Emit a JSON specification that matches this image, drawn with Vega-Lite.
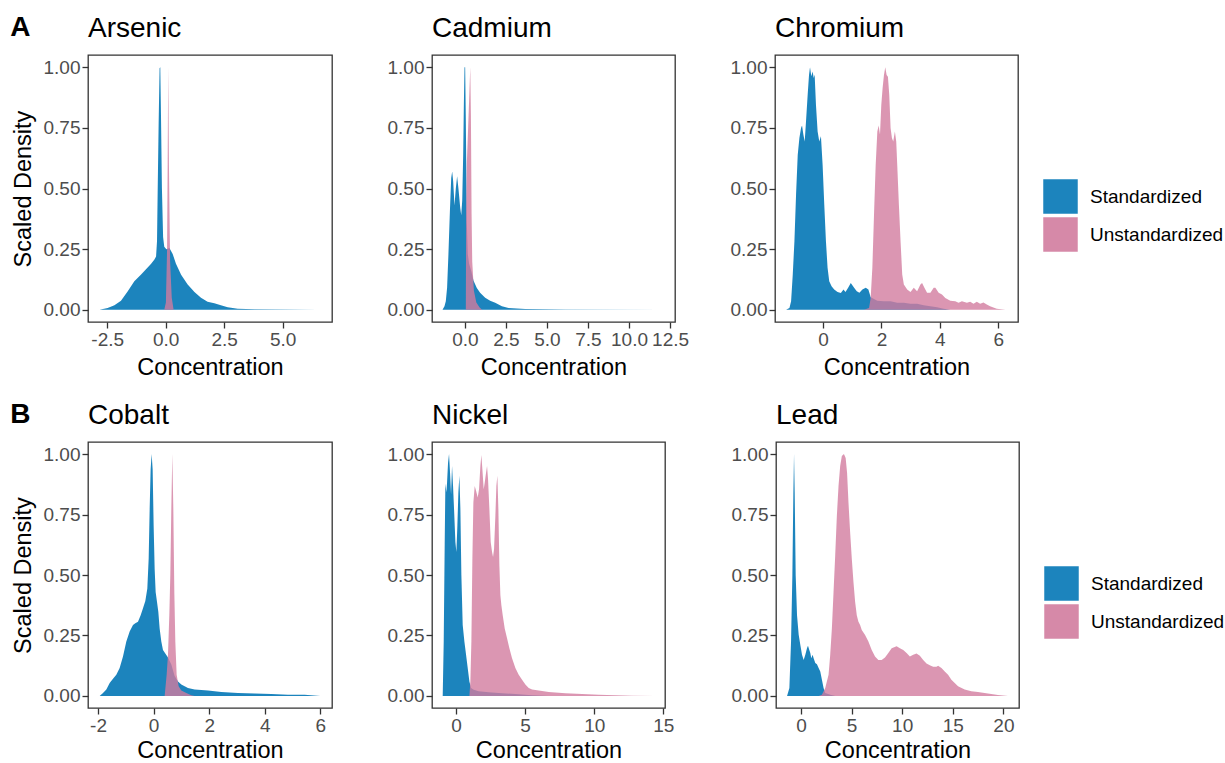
{
"$schema": "https://vega.github.io/schema/vega-lite/v6.json",
"background": "white",
"padding": {"left": 10, "top": 14, "right": 2, "bottom": 0},
"config": {
  "font": "Liberation Sans",
  "view": {"stroke": "#333333", "strokeWidth": 1.3},
  "axis": {"domain": false, "grid": false, "tickColor": "#333333", "tickWidth": 1.3, "tickSize": 6,
           "labelFontSize": 19, "labelColor": "#4D4D4D", "labelFont": "Liberation Sans",
           "titleFont": "Liberation Sans", "titleFontSize": 23.5, "titleFontWeight": "normal", "titleColor": "#000000",
           "labelPadding": 2, "labelFlush": false, "labelOverlap": false},
  "axisX": {"titlePadding": 6},
  "axisY": {"titlePadding": 8},
  "title": {"font": "Liberation Sans", "fontSize": 28, "fontWeight": "normal", "anchor": "start", "frame": "group", "color": "#000000", "offset": 12, "baseline": "alphabetic"}
},
"datasets": {
"arsenic": [
{"conc":-2.83,"dens":0,"series":"Standardized"},{"conc":-2.48,"dens":0.008,"series":"Standardized"},{"conc":-2.19,"dens":0.019,"series":"Standardized"},{"conc":-1.91,"dens":0.038,"series":"Standardized"},{"conc":-1.62,"dens":0.077,"series":"Standardized"},{"conc":-1.34,"dens":0.118,"series":"Standardized"},{"conc":-1.05,"dens":0.146,"series":"Standardized"},{"conc":-0.84,"dens":0.167,"series":"Standardized"},{"conc":-0.63,"dens":0.189,"series":"Standardized"},{"conc":-0.48,"dens":0.207,"series":"Standardized"},{"conc":-0.41,"dens":0.22,"series":"Standardized"},{"conc":-0.37,"dens":0.283,"series":"Standardized"},{"conc":-0.34,"dens":0.5,"series":"Standardized"},{"conc":-0.3,"dens":0.77,"series":"Standardized"},{"conc":-0.26,"dens":0.995,"series":"Standardized"},{"conc":-0.23,"dens":1,"series":"Standardized"},{"conc":-0.2,"dens":0.8,"series":"Standardized"},{"conc":-0.16,"dens":0.5,"series":"Standardized"},{"conc":-0.11,"dens":0.3,"series":"Standardized"},{"conc":-0.06,"dens":0.26,"series":"Standardized"},{"conc":0.03,"dens":0.25,"series":"Standardized"},{"conc":0.16,"dens":0.255,"series":"Standardized"},{"conc":0.3,"dens":0.23,"series":"Standardized"},{"conc":0.44,"dens":0.19,"series":"Standardized"},{"conc":0.66,"dens":0.145,"series":"Standardized"},{"conc":0.94,"dens":0.104,"series":"Standardized"},{"conc":1.23,"dens":0.074,"series":"Standardized"},{"conc":1.51,"dens":0.05,"series":"Standardized"},{"conc":1.79,"dens":0.033,"series":"Standardized"},{"conc":2.08,"dens":0.027,"series":"Standardized"},{"conc":2.36,"dens":0.019,"series":"Standardized"},{"conc":2.65,"dens":0.011,"series":"Standardized"},{"conc":3.08,"dens":0.005,"series":"Standardized"},{"conc":3.79,"dens":0.003,"series":"Standardized"},{"conc":5.21,"dens":0.001,"series":"Standardized"},{"conc":6.5,"dens":0,"series":"Standardized"},
{"conc":-0.06,"dens":0,"series":"Unstandardized"},{"conc":0.01,"dens":0.03,"series":"Unstandardized"},{"conc":0.06,"dens":0.25,"series":"Unstandardized"},{"conc":0.085,"dens":0.6,"series":"Unstandardized"},{"conc":0.11,"dens":1,"series":"Unstandardized"},{"conc":0.14,"dens":0.6,"series":"Unstandardized"},{"conc":0.19,"dens":0.2,"series":"Unstandardized"},{"conc":0.26,"dens":0.05,"series":"Unstandardized"},{"conc":0.34,"dens":0,"series":"Unstandardized"}
],
"cadmium": [
{"conc":-1.36,"dens":0,"series":"Standardized"},{"conc":-1.24,"dens":0.015,"series":"Standardized"},{"conc":-1.16,"dens":0.036,"series":"Standardized"},{"conc":-1.08,"dens":0.091,"series":"Standardized"},{"conc":-1.0,"dens":0.228,"series":"Standardized"},{"conc":-0.91,"dens":0.406,"series":"Standardized"},{"conc":-0.83,"dens":0.543,"series":"Standardized"},{"conc":-0.77,"dens":0.57,"series":"Standardized"},{"conc":-0.71,"dens":0.529,"series":"Standardized"},{"conc":-0.63,"dens":0.43,"series":"Standardized"},{"conc":-0.55,"dens":0.5,"series":"Standardized"},{"conc":-0.47,"dens":0.55,"series":"Standardized"},{"conc":-0.39,"dens":0.5,"series":"Standardized"},{"conc":-0.28,"dens":0.42,"series":"Standardized"},{"conc":-0.22,"dens":0.39,"series":"Standardized"},{"conc":-0.16,"dens":0.45,"series":"Standardized"},{"conc":-0.1,"dens":0.64,"series":"Standardized"},{"conc":-0.06,"dens":0.845,"series":"Standardized"},{"conc":-0.02,"dens":1,"series":"Standardized"},{"conc":0.02,"dens":1,"series":"Standardized"},{"conc":0.06,"dens":0.78,"series":"Standardized"},{"conc":0.12,"dens":0.36,"series":"Standardized"},{"conc":0.18,"dens":0.23,"series":"Standardized"},{"conc":0.26,"dens":0.19,"series":"Standardized"},{"conc":0.39,"dens":0.16,"series":"Standardized"},{"conc":0.53,"dens":0.12,"series":"Standardized"},{"conc":0.73,"dens":0.09,"series":"Standardized"},{"conc":0.93,"dens":0.07,"series":"Standardized"},{"conc":1.24,"dens":0.05,"series":"Standardized"},{"conc":1.54,"dens":0.038,"series":"Standardized"},{"conc":1.85,"dens":0.029,"series":"Standardized"},{"conc":2.26,"dens":0.015,"series":"Standardized"},{"conc":2.66,"dens":0.008,"series":"Standardized"},{"conc":3.68,"dens":0.004,"series":"Standardized"},{"conc":6.12,"dens":0.001,"series":"Standardized"},{"conc":12.0,"dens":0,"series":"Standardized"},
{"conc":0.06,"dens":0,"series":"Unstandardized"},{"conc":0.08,"dens":0.4,"series":"Unstandardized"},{"conc":0.12,"dens":0.6,"series":"Unstandardized"},{"conc":0.2,"dens":0.75,"series":"Unstandardized"},{"conc":0.28,"dens":0.9,"series":"Unstandardized"},{"conc":0.33,"dens":1,"series":"Unstandardized"},{"conc":0.37,"dens":0.8,"series":"Unstandardized"},{"conc":0.41,"dens":0.4,"series":"Unstandardized"},{"conc":0.45,"dens":0.2,"series":"Unstandardized"},{"conc":0.55,"dens":0.08,"series":"Unstandardized"},{"conc":0.7,"dens":0.03,"series":"Unstandardized"},{"conc":0.9,"dens":0.01,"series":"Unstandardized"},{"conc":1.05,"dens":0,"series":"Unstandardized"}
],
"chromium": [
{"conc":-1.27,"dens":0,"series":"Standardized"},{"conc":-1.155,"dens":0.008,"series":"Standardized"},{"conc":-1.098,"dens":0.036,"series":"Standardized"},{"conc":-1.041,"dens":0.146,"series":"Standardized"},{"conc":-0.984,"dens":0.283,"series":"Standardized"},{"conc":-0.928,"dens":0.475,"series":"Standardized"},{"conc":-0.871,"dens":0.638,"series":"Standardized"},{"conc":-0.814,"dens":0.708,"series":"Standardized"},{"conc":-0.757,"dens":0.749,"series":"Standardized"},{"conc":-0.723,"dens":0.76,"series":"Standardized"},{"conc":-0.678,"dens":0.722,"series":"Standardized"},{"conc":-0.632,"dens":0.694,"series":"Standardized"},{"conc":-0.587,"dens":0.776,"series":"Standardized"},{"conc":-0.53,"dens":0.886,"series":"Standardized"},{"conc":-0.484,"dens":0.968,"series":"Standardized"},{"conc":-0.45,"dens":1,"series":"Standardized"},{"conc":-0.405,"dens":0.962,"series":"Standardized"},{"conc":-0.359,"dens":0.982,"series":"Standardized"},{"conc":-0.325,"dens":0.955,"series":"Standardized"},{"conc":-0.291,"dens":0.969,"series":"Standardized"},{"conc":-0.246,"dens":0.845,"series":"Standardized"},{"conc":-0.189,"dens":0.735,"series":"Standardized"},{"conc":-0.132,"dens":0.694,"series":"Standardized"},{"conc":-0.075,"dens":0.715,"series":"Standardized"},{"conc":-0.018,"dens":0.598,"series":"Standardized"},{"conc":0.039,"dens":0.433,"series":"Standardized"},{"conc":0.096,"dens":0.283,"series":"Standardized"},{"conc":0.152,"dens":0.173,"series":"Standardized"},{"conc":0.209,"dens":0.118,"series":"Standardized"},{"conc":0.289,"dens":0.097,"series":"Standardized"},{"conc":0.38,"dens":0.084,"series":"Standardized"},{"conc":0.493,"dens":0.074,"series":"Standardized"},{"conc":0.607,"dens":0.069,"series":"Standardized"},{"conc":0.698,"dens":0.084,"series":"Standardized"},{"conc":0.766,"dens":0.074,"series":"Standardized"},{"conc":0.857,"dens":0.091,"series":"Standardized"},{"conc":0.948,"dens":0.111,"series":"Standardized"},{"conc":1.062,"dens":0.091,"series":"Standardized"},{"conc":1.153,"dens":0.077,"series":"Standardized"},{"conc":1.244,"dens":0.07,"series":"Standardized"},{"conc":1.346,"dens":0.084,"series":"Standardized"},{"conc":1.46,"dens":0.091,"series":"Standardized"},{"conc":1.551,"dens":0.084,"series":"Standardized"},{"conc":1.63,"dens":0.052,"series":"Standardized"},{"conc":1.857,"dens":0.038,"series":"Standardized"},{"conc":2.085,"dens":0.036,"series":"Standardized"},{"conc":2.312,"dens":0.036,"series":"Standardized"},{"conc":2.54,"dens":0.029,"series":"Standardized"},{"conc":2.767,"dens":0.029,"series":"Standardized"},{"conc":2.994,"dens":0.025,"series":"Standardized"},{"conc":3.222,"dens":0.025,"series":"Standardized"},{"conc":3.449,"dens":0.019,"series":"Standardized"},{"conc":3.677,"dens":0.015,"series":"Standardized"},{"conc":3.904,"dens":0.011,"series":"Standardized"},{"conc":4.131,"dens":0.005,"series":"Standardized"},{"conc":4.359,"dens":0,"series":"Standardized"},
{"conc":1.403,"dens":0,"series":"Unstandardized"},{"conc":1.574,"dens":0.008,"series":"Unstandardized"},{"conc":1.63,"dens":0.049,"series":"Unstandardized"},{"conc":1.687,"dens":0.173,"series":"Unstandardized"},{"conc":1.744,"dens":0.392,"series":"Unstandardized"},{"conc":1.801,"dens":0.596,"series":"Unstandardized"},{"conc":1.858,"dens":0.735,"series":"Unstandardized"},{"conc":1.903,"dens":0.76,"series":"Unstandardized"},{"conc":1.949,"dens":0.722,"series":"Unstandardized"},{"conc":1.994,"dens":0.845,"series":"Unstandardized"},{"conc":2.039,"dens":0.914,"series":"Unstandardized"},{"conc":2.085,"dens":0.968,"series":"Unstandardized"},{"conc":2.13,"dens":1,"series":"Unstandardized"},{"conc":2.176,"dens":0.968,"series":"Unstandardized"},{"conc":2.221,"dens":0.96,"series":"Unstandardized"},{"conc":2.267,"dens":0.886,"series":"Unstandardized"},{"conc":2.312,"dens":0.749,"series":"Unstandardized"},{"conc":2.358,"dens":0.708,"series":"Unstandardized"},{"conc":2.403,"dens":0.694,"series":"Unstandardized"},{"conc":2.46,"dens":0.735,"series":"Unstandardized"},{"conc":2.506,"dens":0.694,"series":"Unstandardized"},{"conc":2.54,"dens":0.598,"series":"Unstandardized"},{"conc":2.597,"dens":0.433,"series":"Unstandardized"},{"conc":2.654,"dens":0.283,"series":"Unstandardized"},{"conc":2.711,"dens":0.146,"series":"Unstandardized"},{"conc":2.767,"dens":0.104,"series":"Unstandardized"},{"conc":2.881,"dens":0.084,"series":"Unstandardized"},{"conc":2.994,"dens":0.074,"series":"Unstandardized"},{"conc":3.108,"dens":0.091,"series":"Unstandardized"},{"conc":3.222,"dens":0.077,"series":"Unstandardized"},{"conc":3.335,"dens":0.104,"series":"Unstandardized"},{"conc":3.392,"dens":0.111,"series":"Unstandardized"},{"conc":3.472,"dens":0.091,"series":"Unstandardized"},{"conc":3.563,"dens":0.07,"series":"Unstandardized"},{"conc":3.677,"dens":0.07,"series":"Unstandardized"},{"conc":3.79,"dens":0.091,"series":"Unstandardized"},{"conc":3.847,"dens":0.091,"series":"Unstandardized"},{"conc":3.961,"dens":0.07,"series":"Unstandardized"},{"conc":4.074,"dens":0.063,"series":"Unstandardized"},{"conc":4.188,"dens":0.049,"series":"Unstandardized"},{"conc":4.359,"dens":0.038,"series":"Unstandardized"},{"conc":4.529,"dens":0.036,"series":"Unstandardized"},{"conc":4.643,"dens":0.029,"series":"Unstandardized"},{"conc":4.757,"dens":0.036,"series":"Unstandardized"},{"conc":4.927,"dens":0.029,"series":"Unstandardized"},{"conc":5.041,"dens":0.033,"series":"Unstandardized"},{"conc":5.155,"dens":0.025,"series":"Unstandardized"},{"conc":5.268,"dens":0.033,"series":"Unstandardized"},{"conc":5.382,"dens":0.025,"series":"Unstandardized"},{"conc":5.496,"dens":0.03,"series":"Unstandardized"},{"conc":5.61,"dens":0.022,"series":"Unstandardized"},{"conc":5.723,"dens":0.015,"series":"Unstandardized"},{"conc":5.951,"dens":0.005,"series":"Unstandardized"},{"conc":6.25,"dens":0,"series":"Unstandardized"}
],
"cobalt": [
{"conc":-1.94,"dens":0,"series":"Standardized"},{"conc":-1.82,"dens":0.012,"series":"Standardized"},{"conc":-1.7,"dens":0.026,"series":"Standardized"},{"conc":-1.58,"dens":0.053,"series":"Standardized"},{"conc":-1.46,"dens":0.071,"series":"Standardized"},{"conc":-1.341,"dens":0.088,"series":"Standardized"},{"conc":-1.221,"dens":0.115,"series":"Standardized"},{"conc":-1.101,"dens":0.163,"series":"Standardized"},{"conc":-0.981,"dens":0.225,"series":"Standardized"},{"conc":-0.861,"dens":0.266,"series":"Standardized"},{"conc":-0.741,"dens":0.293,"series":"Standardized"},{"conc":-0.657,"dens":0.3,"series":"Standardized"},{"conc":-0.561,"dens":0.307,"series":"Standardized"},{"conc":-0.465,"dens":0.334,"series":"Standardized"},{"conc":-0.381,"dens":0.362,"series":"Standardized"},{"conc":-0.297,"dens":0.392,"series":"Standardized"},{"conc":-0.225,"dens":0.444,"series":"Standardized"},{"conc":-0.177,"dens":0.567,"series":"Standardized"},{"conc":-0.141,"dens":0.773,"series":"Standardized"},{"conc":-0.106,"dens":0.937,"series":"Standardized"},{"conc":-0.07,"dens":1,"series":"Standardized"},{"conc":-0.034,"dens":0.937,"series":"Standardized"},{"conc":0.002,"dens":0.704,"series":"Standardized"},{"conc":0.038,"dens":0.526,"series":"Standardized"},{"conc":0.074,"dens":0.43,"series":"Standardized"},{"conc":0.122,"dens":0.389,"series":"Standardized"},{"conc":0.17,"dens":0.348,"series":"Standardized"},{"conc":0.218,"dens":0.279,"series":"Standardized"},{"conc":0.278,"dens":0.225,"series":"Standardized"},{"conc":0.338,"dens":0.19,"series":"Standardized"},{"conc":0.422,"dens":0.175,"series":"Standardized"},{"conc":0.518,"dens":0.159,"series":"Standardized"},{"conc":0.638,"dens":0.13,"series":"Standardized"},{"conc":0.758,"dens":0.082,"series":"Standardized"},{"conc":0.878,"dens":0.06,"series":"Standardized"},{"conc":0.998,"dens":0.047,"series":"Standardized"},{"conc":1.117,"dens":0.04,"series":"Standardized"},{"conc":1.237,"dens":0.033,"series":"Standardized"},{"conc":1.477,"dens":0.026,"series":"Standardized"},{"conc":1.957,"dens":0.022,"series":"Standardized"},{"conc":2.437,"dens":0.016,"series":"Standardized"},{"conc":3.036,"dens":0.012,"series":"Standardized"},{"conc":3.636,"dens":0.01,"series":"Standardized"},{"conc":4.235,"dens":0.008,"series":"Standardized"},{"conc":4.835,"dens":0.005,"series":"Standardized"},{"conc":5.434,"dens":0.005,"series":"Standardized"},{"conc":6.0,"dens":0,"series":"Standardized"},
{"conc":0.398,"dens":0,"series":"Unstandardized"},{"conc":0.47,"dens":0.088,"series":"Unstandardized"},{"conc":0.518,"dens":0.17,"series":"Unstandardized"},{"conc":0.566,"dens":0.334,"series":"Unstandardized"},{"conc":0.602,"dens":0.499,"series":"Unstandardized"},{"conc":0.638,"dens":0.773,"series":"Unstandardized"},{"conc":0.674,"dens":1,"series":"Unstandardized"},{"conc":0.71,"dens":0.773,"series":"Unstandardized"},{"conc":0.746,"dens":0.43,"series":"Unstandardized"},{"conc":0.782,"dens":0.225,"series":"Unstandardized"},{"conc":0.83,"dens":0.088,"series":"Unstandardized"},{"conc":0.902,"dens":0.04,"series":"Unstandardized"},{"conc":0.998,"dens":0.022,"series":"Unstandardized"},{"conc":1.177,"dens":0.012,"series":"Unstandardized"},{"conc":1.357,"dens":0.003,"series":"Unstandardized"},{"conc":1.477,"dens":0,"series":"Unstandardized"}
],
"nickel": [
{"conc":-0.965,"dens":0,"series":"Standardized"},{"conc":-0.892,"dens":0.225,"series":"Standardized"},{"conc":-0.82,"dens":0.636,"series":"Standardized"},{"conc":-0.772,"dens":0.877,"series":"Standardized"},{"conc":-0.699,"dens":0.842,"series":"Standardized"},{"conc":-0.651,"dens":0.882,"series":"Standardized"},{"conc":-0.579,"dens":0.964,"series":"Standardized"},{"conc":-0.507,"dens":1,"series":"Standardized"},{"conc":-0.434,"dens":0.923,"series":"Standardized"},{"conc":-0.362,"dens":0.834,"series":"Standardized"},{"conc":-0.289,"dens":0.951,"series":"Standardized"},{"conc":-0.217,"dens":0.868,"series":"Standardized"},{"conc":-0.145,"dens":0.773,"series":"Standardized"},{"conc":-0.048,"dens":0.636,"series":"Standardized"},{"conc":0.024,"dens":0.595,"series":"Standardized"},{"conc":0.096,"dens":0.704,"series":"Standardized"},{"conc":0.169,"dens":0.841,"series":"Standardized"},{"conc":0.241,"dens":0.91,"series":"Standardized"},{"conc":0.314,"dens":0.773,"series":"Standardized"},{"conc":0.386,"dens":0.499,"series":"Standardized"},{"conc":0.482,"dens":0.293,"series":"Standardized"},{"conc":0.603,"dens":0.225,"series":"Standardized"},{"conc":0.724,"dens":0.17,"series":"Standardized"},{"conc":0.844,"dens":0.115,"series":"Standardized"},{"conc":0.965,"dens":0.06,"series":"Standardized"},{"conc":1.085,"dens":0.033,"series":"Standardized"},{"conc":1.278,"dens":0.025,"series":"Standardized"},{"conc":1.64,"dens":0.019,"series":"Standardized"},{"conc":2.364,"dens":0.015,"series":"Standardized"},{"conc":3.087,"dens":0.012,"series":"Standardized"},{"conc":4.293,"dens":0.008,"series":"Standardized"},{"conc":5.499,"dens":0.003,"series":"Standardized"},{"conc":6.705,"dens":0,"series":"Standardized"},
{"conc":0.965,"dens":0,"series":"Unstandardized"},{"conc":1.037,"dens":0.06,"series":"Unstandardized"},{"conc":1.11,"dens":0.225,"series":"Unstandardized"},{"conc":1.182,"dens":0.567,"series":"Unstandardized"},{"conc":1.254,"dens":0.8,"series":"Unstandardized"},{"conc":1.351,"dens":0.868,"series":"Unstandardized"},{"conc":1.447,"dens":0.848,"series":"Unstandardized"},{"conc":1.568,"dens":0.821,"series":"Unstandardized"},{"conc":1.664,"dens":0.855,"series":"Unstandardized"},{"conc":1.761,"dens":0.951,"series":"Unstandardized"},{"conc":1.833,"dens":0.996,"series":"Unstandardized"},{"conc":1.905,"dens":0.937,"series":"Unstandardized"},{"conc":2.002,"dens":0.855,"series":"Unstandardized"},{"conc":2.074,"dens":0.882,"series":"Unstandardized"},{"conc":2.171,"dens":0.923,"series":"Unstandardized"},{"conc":2.243,"dens":0.951,"series":"Unstandardized"},{"conc":2.315,"dens":0.896,"series":"Unstandardized"},{"conc":2.412,"dens":0.773,"series":"Unstandardized"},{"conc":2.508,"dens":0.636,"series":"Unstandardized"},{"conc":2.605,"dens":0.595,"series":"Unstandardized"},{"conc":2.677,"dens":0.574,"series":"Unstandardized"},{"conc":2.75,"dens":0.608,"series":"Unstandardized"},{"conc":2.846,"dens":0.745,"series":"Unstandardized"},{"conc":2.918,"dens":0.868,"series":"Unstandardized"},{"conc":2.991,"dens":0.91,"series":"Unstandardized"},{"conc":3.063,"dens":0.773,"series":"Unstandardized"},{"conc":3.136,"dens":0.54,"series":"Unstandardized"},{"conc":3.208,"dens":0.416,"series":"Unstandardized"},{"conc":3.28,"dens":0.375,"series":"Unstandardized"},{"conc":3.377,"dens":0.334,"series":"Unstandardized"},{"conc":3.521,"dens":0.279,"series":"Unstandardized"},{"conc":3.69,"dens":0.238,"series":"Unstandardized"},{"conc":3.859,"dens":0.197,"series":"Unstandardized"},{"conc":4.052,"dens":0.156,"series":"Unstandardized"},{"conc":4.293,"dens":0.115,"series":"Unstandardized"},{"conc":4.534,"dens":0.088,"series":"Unstandardized"},{"conc":4.776,"dens":0.067,"series":"Unstandardized"},{"conc":5.017,"dens":0.047,"series":"Unstandardized"},{"conc":5.258,"dens":0.033,"series":"Unstandardized"},{"conc":5.499,"dens":0.026,"series":"Unstandardized"},{"conc":5.982,"dens":0.022,"series":"Unstandardized"},{"conc":6.705,"dens":0.016,"series":"Unstandardized"},{"conc":7.911,"dens":0.011,"series":"Unstandardized"},{"conc":9.117,"dens":0.008,"series":"Unstandardized"},{"conc":10.323,"dens":0.005,"series":"Unstandardized"},{"conc":11.529,"dens":0.003,"series":"Unstandardized"},{"conc":12.735,"dens":0.001,"series":"Unstandardized"},{"conc":14.36,"dens":0,"series":"Unstandardized"}
],
"lead": [
{"conc":-1.367,"dens":0,"series":"Standardized"},{"conc":-1.138,"dens":0.033,"series":"Standardized"},{"conc":-0.974,"dens":0.225,"series":"Standardized"},{"conc":-0.843,"dens":0.499,"series":"Standardized"},{"conc":-0.745,"dens":0.841,"series":"Standardized"},{"conc":-0.679,"dens":1,"series":"Standardized"},{"conc":-0.613,"dens":0.841,"series":"Standardized"},{"conc":-0.515,"dens":0.499,"series":"Standardized"},{"conc":-0.384,"dens":0.334,"series":"Standardized"},{"conc":-0.22,"dens":0.253,"series":"Standardized"},{"conc":-0.056,"dens":0.211,"series":"Standardized"},{"conc":0.108,"dens":0.17,"series":"Standardized"},{"conc":0.272,"dens":0.149,"series":"Standardized"},{"conc":0.436,"dens":0.17,"series":"Standardized"},{"conc":0.6,"dens":0.197,"series":"Standardized"},{"conc":0.698,"dens":0.207,"series":"Standardized"},{"conc":0.83,"dens":0.19,"series":"Standardized"},{"conc":0.928,"dens":0.177,"series":"Standardized"},{"conc":1.026,"dens":0.156,"series":"Standardized"},{"conc":1.157,"dens":0.17,"series":"Standardized"},{"conc":1.256,"dens":0.156,"series":"Standardized"},{"conc":1.42,"dens":0.136,"series":"Standardized"},{"conc":1.584,"dens":0.131,"series":"Standardized"},{"conc":1.748,"dens":0.115,"series":"Standardized"},{"conc":1.911,"dens":0.101,"series":"Standardized"},{"conc":2.075,"dens":0.067,"series":"Standardized"},{"conc":2.239,"dens":0.033,"series":"Standardized"},{"conc":2.403,"dens":0.012,"series":"Standardized"},{"conc":2.9,"dens":0.005,"series":"Standardized"},{"conc":3.4,"dens":0,"series":"Standardized"},
{"conc":1.748,"dens":0,"series":"Unstandardized"},{"conc":2.075,"dens":0.005,"series":"Unstandardized"},{"conc":2.403,"dens":0.033,"series":"Unstandardized"},{"conc":2.731,"dens":0.088,"series":"Unstandardized"},{"conc":2.895,"dens":0.17,"series":"Unstandardized"},{"conc":3.059,"dens":0.279,"series":"Unstandardized"},{"conc":3.223,"dens":0.43,"series":"Unstandardized"},{"conc":3.387,"dens":0.581,"series":"Unstandardized"},{"conc":3.551,"dens":0.745,"series":"Unstandardized"},{"conc":3.715,"dens":0.868,"series":"Unstandardized"},{"conc":3.879,"dens":0.951,"series":"Unstandardized"},{"conc":4.043,"dens":0.992,"series":"Unstandardized"},{"conc":4.25,"dens":1,"series":"Unstandardized"},{"conc":4.42,"dens":0.984,"series":"Unstandardized"},{"conc":4.56,"dens":0.923,"series":"Unstandardized"},{"conc":4.698,"dens":0.8,"series":"Unstandardized"},{"conc":4.862,"dens":0.677,"series":"Unstandardized"},{"conc":5.026,"dens":0.567,"series":"Unstandardized"},{"conc":5.19,"dens":0.471,"series":"Unstandardized"},{"conc":5.354,"dens":0.389,"series":"Unstandardized"},{"conc":5.518,"dens":0.334,"series":"Unstandardized"},{"conc":5.682,"dens":0.307,"series":"Unstandardized"},{"conc":5.846,"dens":0.293,"series":"Unstandardized"},{"conc":6.01,"dens":0.273,"series":"Unstandardized"},{"conc":6.338,"dens":0.252,"series":"Unstandardized"},{"conc":6.666,"dens":0.225,"series":"Unstandardized"},{"conc":6.993,"dens":0.19,"series":"Unstandardized"},{"conc":7.321,"dens":0.163,"series":"Unstandardized"},{"conc":7.649,"dens":0.149,"series":"Unstandardized"},{"conc":7.977,"dens":0.149,"series":"Unstandardized"},{"conc":8.305,"dens":0.159,"series":"Unstandardized"},{"conc":8.633,"dens":0.177,"series":"Unstandardized"},{"conc":8.961,"dens":0.197,"series":"Unstandardized"},{"conc":9.452,"dens":0.205,"series":"Unstandardized"},{"conc":9.78,"dens":0.197,"series":"Unstandardized"},{"conc":10.108,"dens":0.19,"series":"Unstandardized"},{"conc":10.436,"dens":0.177,"series":"Unstandardized"},{"conc":10.764,"dens":0.163,"series":"Unstandardized"},{"conc":11.092,"dens":0.17,"series":"Unstandardized"},{"conc":11.42,"dens":0.175,"series":"Unstandardized"},{"conc":11.748,"dens":0.166,"series":"Unstandardized"},{"conc":12.076,"dens":0.149,"series":"Unstandardized"},{"conc":12.404,"dens":0.134,"series":"Unstandardized"},{"conc":12.731,"dens":0.127,"series":"Unstandardized"},{"conc":13.059,"dens":0.121,"series":"Unstandardized"},{"conc":13.387,"dens":0.121,"series":"Unstandardized"},{"conc":13.551,"dens":0.125,"series":"Unstandardized"},{"conc":13.879,"dens":0.115,"series":"Unstandardized"},{"conc":14.207,"dens":0.101,"series":"Unstandardized"},{"conc":14.535,"dens":0.088,"series":"Unstandardized"},{"conc":14.863,"dens":0.067,"series":"Unstandardized"},{"conc":15.19,"dens":0.053,"series":"Unstandardized"},{"conc":15.518,"dens":0.04,"series":"Unstandardized"},{"conc":16.174,"dens":0.026,"series":"Unstandardized"},{"conc":16.83,"dens":0.019,"series":"Unstandardized"},{"conc":17.486,"dens":0.016,"series":"Unstandardized"},{"conc":18.141,"dens":0.012,"series":"Unstandardized"},{"conc":18.797,"dens":0.008,"series":"Unstandardized"},{"conc":19.453,"dens":0.004,"series":"Unstandardized"},{"conc":20.45,"dens":0,"series":"Unstandardized"}
]
},
"vconcat": [
 {
  "title": {"text": "A", "fontWeight": "bold", "fontSize": 28, "anchor": "start", "frame": "bounds", "offset": 0, "dy": 28},
  "bounds": "flush", "spacing": 100,
  "resolve": {"scale": {"color": "independent"}, "legend": {"color": "independent"}},
  "hconcat": [
   {"width": 244, "height": 267, "title": "Arsenic", "data": {"name": "arsenic"},
    "layer": [
     {"mark": {"type": "area", "opacity": 0.9}, "transform": [{"filter": "datum.series === 'Standardized'"}],
      "encoding": {
       "x": {"field": "conc", "type": "quantitative", "scale": {"domain": [-3.32, 7.11], "nice": false, "zero": false}, "axis": {"values": [-2.5, 0, 2.5, 5], "labelExpr": "datum.value < 0 ? '-' + format(-datum.value, '.1f') : format(datum.value, '.1f')", "title": "Concentration"}},
       "y": {"field": "dens", "type": "quantitative", "stack": null, "scale": {"domain": [-0.05, 1.05], "nice": false, "zero": false}, "axis": {"values": [0, 0.25, 0.5, 0.75, 1], "format": ".2f", "title": "Scaled Density"}},
       "y2": {"datum": 0},
       "color": {"field": "series", "type": "nominal", "scale": {"domain": ["Standardized", "Unstandardized"], "range": ["#0377B6", "#D27C9F"]}, "legend": null}}},
     {"mark": {"type": "area", "opacity": 0.8}, "transform": [{"filter": "datum.series === 'Unstandardized'"}],
      "encoding": {
       "x": {"field": "conc", "type": "quantitative"},
       "y": {"field": "dens", "type": "quantitative", "stack": null},
       "y2": {"datum": 0},
       "color": {"field": "series", "type": "nominal", "legend": null}}}
    ]},
   {"width": 243, "height": 267, "title": "Cadmium", "data": {"name": "cadmium"},
    "layer": [
     {"mark": {"type": "area", "opacity": 0.9}, "transform": [{"filter": "datum.series === 'Standardized'"}],
      "encoding": {
       "x": {"field": "conc", "type": "quantitative", "scale": {"domain": [-2.0, 12.8], "nice": false, "zero": false}, "axis": {"values": [0, 2.5, 5, 7.5, 10, 12.5], "format": ".1f", "title": "Concentration"}},
       "y": {"field": "dens", "type": "quantitative", "stack": null, "scale": {"domain": [-0.05, 1.05], "nice": false, "zero": false}, "axis": {"values": [0, 0.25, 0.5, 0.75, 1], "format": ".2f", "title": null}},
       "y2": {"datum": 0},
       "color": {"field": "series", "type": "nominal", "scale": {"domain": ["Standardized", "Unstandardized"], "range": ["#0377B6", "#D27C9F"]}, "legend": null}}},
     {"mark": {"type": "area", "opacity": 0.8}, "transform": [{"filter": "datum.series === 'Unstandardized'"}],
      "encoding": {
       "x": {"field": "conc", "type": "quantitative"},
       "y": {"field": "dens", "type": "quantitative", "stack": null},
       "y2": {"datum": 0},
       "color": {"field": "series", "type": "nominal", "legend": null}}}
    ]},
   {"width": 243, "height": 267, "title": "Chromium", "data": {"name": "chromium"},
    "layer": [
     {"mark": {"type": "area", "opacity": 0.9}, "transform": [{"filter": "datum.series === 'Standardized'"}],
      "encoding": {
       "x": {"field": "conc", "type": "quantitative", "scale": {"domain": [-1.65, 6.68], "nice": false, "zero": false}, "axis": {"values": [0, 2, 4, 6], "format": "d", "title": "Concentration"}},
       "y": {"field": "dens", "type": "quantitative", "stack": null, "scale": {"domain": [-0.05, 1.05], "nice": false, "zero": false}, "axis": {"values": [0, 0.25, 0.5, 0.75, 1], "format": ".2f", "title": null}},
       "y2": {"datum": 0},
       "color": {"field": "series", "type": "nominal", "scale": {"domain": ["Standardized", "Unstandardized"], "range": ["#0377B6", "#D27C9F"]},
        "legend": {"orient": "none", "legendX": 268, "legendY": 124, "title": null, "symbolType": "square", "symbolSize": 1190, "symbolStrokeWidth": 0, "labelFontSize": 19, "labelFont": "Liberation Sans", "labelColor": "#000000", "rowPadding": 3, "labelOffset": 12, "padding": 0,
                   "encode": {"symbols": {"update": {"opacity": {"signal": "datum.value === 'Standardized' ? 0.9 : 0.8"}}}}}}}},
     {"mark": {"type": "area", "opacity": 0.8}, "transform": [{"filter": "datum.series === 'Unstandardized'"}],
      "encoding": {
       "x": {"field": "conc", "type": "quantitative"},
       "y": {"field": "dens", "type": "quantitative", "stack": null},
       "y2": {"datum": 0},
       "color": {"field": "series", "type": "nominal"}}}
    ]}
  ]
 },
 {
  "title": {"text": "B", "fontWeight": "bold", "fontSize": 28, "anchor": "start", "frame": "bounds", "offset": 0, "dy": 28},
  "bounds": "flush", "spacing": 100,
  "resolve": {"scale": {"color": "independent"}, "legend": {"color": "independent"}},
  "hconcat": [
   {"width": 244, "height": 266, "title": "Cobalt", "data": {"name": "cobalt"},
    "layer": [
     {"mark": {"type": "area", "opacity": 0.9}, "transform": [{"filter": "datum.series === 'Standardized'"}],
      "encoding": {
       "x": {"field": "conc", "type": "quantitative", "scale": {"domain": [-2.36, 6.42], "nice": false, "zero": false}, "axis": {"values": [-2, 0, 2, 4, 6], "labelExpr": "datum.value < 0 ? '-' + format(-datum.value, 'd') : format(datum.value, 'd')", "title": "Concentration", "titlePadding": 3}},
       "y": {"field": "dens", "type": "quantitative", "stack": null, "scale": {"domain": [-0.05, 1.05], "nice": false, "zero": false}, "axis": {"values": [0, 0.25, 0.5, 0.75, 1], "format": ".2f", "title": "Scaled Density"}},
       "y2": {"datum": 0},
       "color": {"field": "series", "type": "nominal", "scale": {"domain": ["Standardized", "Unstandardized"], "range": ["#0377B6", "#D27C9F"]}, "legend": null}}},
     {"mark": {"type": "area", "opacity": 0.8}, "transform": [{"filter": "datum.series === 'Unstandardized'"}],
      "encoding": {
       "x": {"field": "conc", "type": "quantitative"},
       "y": {"field": "dens", "type": "quantitative", "stack": null},
       "y2": {"datum": 0},
       "color": {"field": "series", "type": "nominal", "legend": null}}}
    ]},
   {
    "bounds": "flush", "spacing": 111,
    "resolve": {"scale": {"color": "independent"}, "legend": {"color": "independent"}},
    "hconcat": [
     {"width": 233, "height": 266, "title": "Nickel", "data": {"name": "nickel"},
      "layer": [
       {"mark": {"type": "area", "opacity": 0.9}, "transform": [{"filter": "datum.series === 'Standardized'"}],
        "encoding": {
         "x": {"field": "conc", "type": "quantitative", "scale": {"domain": [-1.74, 15.12], "nice": false, "zero": false}, "axis": {"values": [0, 5, 10, 15], "format": "d", "title": "Concentration", "titlePadding": 3}},
         "y": {"field": "dens", "type": "quantitative", "stack": null, "scale": {"domain": [-0.05, 1.05], "nice": false, "zero": false}, "axis": {"values": [0, 0.25, 0.5, 0.75, 1], "format": ".2f", "title": null}},
         "y2": {"datum": 0},
         "color": {"field": "series", "type": "nominal", "scale": {"domain": ["Standardized", "Unstandardized"], "range": ["#0377B6", "#D27C9F"]}, "legend": null}}},
       {"mark": {"type": "area", "opacity": 0.8}, "transform": [{"filter": "datum.series === 'Unstandardized'"}],
        "encoding": {
         "x": {"field": "conc", "type": "quantitative"},
         "y": {"field": "dens", "type": "quantitative", "stack": null},
         "y2": {"datum": 0},
         "color": {"field": "series", "type": "nominal", "legend": null}}}
      ]},
     {"width": 243, "height": 266, "title": "Lead", "data": {"name": "lead"},
      "layer": [
       {"mark": {"type": "area", "opacity": 0.9}, "transform": [{"filter": "datum.series === 'Standardized'"}],
        "encoding": {
         "x": {"field": "conc", "type": "quantitative", "scale": {"domain": [-2.46, 21.54], "nice": false, "zero": false}, "axis": {"values": [0, 5, 10, 15, 20], "format": "d", "title": "Concentration", "titlePadding": 3}},
         "y": {"field": "dens", "type": "quantitative", "stack": null, "scale": {"domain": [-0.05, 1.05], "nice": false, "zero": false}, "axis": {"values": [0, 0.25, 0.5, 0.75, 1], "format": ".2f", "title": null}},
         "y2": {"datum": 0},
         "color": {"field": "series", "type": "nominal", "scale": {"domain": ["Standardized", "Unstandardized"], "range": ["#0377B6", "#D27C9F"]},
          "legend": {"orient": "none", "legendX": 268, "legendY": 124, "title": null, "symbolType": "square", "symbolSize": 1190, "symbolStrokeWidth": 0, "labelFontSize": 19, "labelFont": "Liberation Sans", "labelColor": "#000000", "rowPadding": 3, "labelOffset": 12, "padding": 0,
                     "encode": {"symbols": {"update": {"opacity": {"signal": "datum.value === 'Standardized' ? 0.9 : 0.8"}}}}}}}},
       {"mark": {"type": "area", "opacity": 0.8}, "transform": [{"filter": "datum.series === 'Unstandardized'"}],
        "encoding": {
         "x": {"field": "conc", "type": "quantitative"},
         "y": {"field": "dens", "type": "quantitative", "stack": null},
         "y2": {"datum": 0},
         "color": {"field": "series", "type": "nominal"}}}
      ]}
    ]
   }
  ]
 }
],
"spacing": 21,
"resolve": {"scale": {"color": "independent"}, "legend": {"color": "independent"}}
}
